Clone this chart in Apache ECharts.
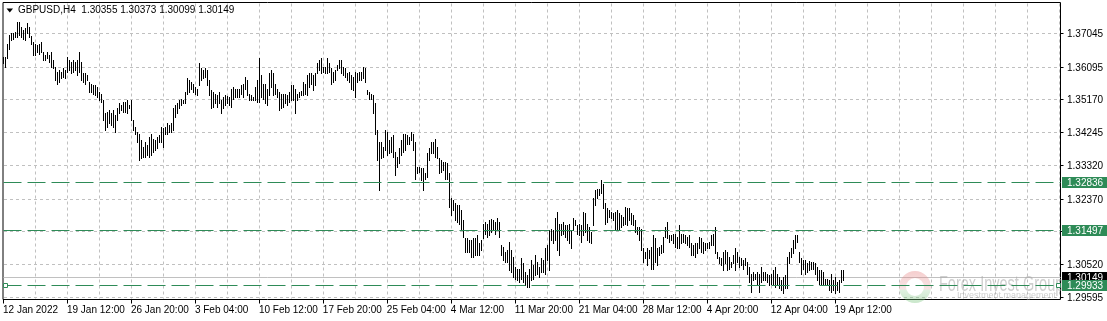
<!DOCTYPE html>
<html><head><meta charset="utf-8">
<script src="https://cdn.jsdelivr.net/npm/echarts@6/dist/echarts.min.js"></script>
<style>html,body{margin:0;padding:0;background:#fff}#c{width:1107px;height:321px}</style>
</head><body><div id="c"></div>
<script>
// ---- data ----
const symbolName = 'GBPUSD,H4';
const lastOHLC = [1.30355, 1.30373, 1.30099, 1.30149];
const highs = [
1.3639,1.3639,1.3676,1.3700,1.3705,1.3707,1.3709,1.3738,1.3738,1.3723,
1.3714,1.3719,1.3733,1.3723,1.3697,1.3681,1.3676,1.3672,1.3676,1.3681,
1.3653,1.3643,1.3653,1.3643,1.3653,1.3629,1.3611,1.3596,1.3601,1.3596,
1.3606,1.3601,1.3639,1.3629,1.3625,1.3629,1.3625,1.3629,1.3653,1.3625,
1.3592,1.3592,1.3587,1.3568,1.3563,1.3559,1.3559,1.3554,1.3540,1.3535,
1.3516,1.3479,1.3484,1.3488,1.3479,1.3488,1.3474,1.3493,1.3509,1.3502,
1.3512,1.3512,1.3516,1.3502,1.3516,1.3460,1.3441,1.3427,1.3422,1.3404,
1.3385,1.3399,1.3389,1.3413,1.3422,1.3408,1.3404,1.3413,1.3418,1.3441,
1.3437,1.3441,1.3451,1.3446,1.3451,1.3493,1.3502,1.3507,1.3518,1.3521,
1.3518,1.3540,1.3578,1.3573,1.3568,1.3563,1.3554,1.3549,1.3620,1.3606,
1.3601,1.3606,1.3601,1.3573,1.3545,1.3540,1.3535,1.3530,1.3540,1.3516,
1.3526,1.3530,1.3528,1.3526,1.3547,1.3554,1.3547,1.3549,1.3547,1.3559,
1.3563,1.3582,1.3573,1.3533,1.3530,1.3526,1.3554,1.3573,1.3634,1.3587,
1.3563,1.3563,1.3549,1.3592,1.3601,1.3592,1.3563,1.3549,1.3540,1.3535,
1.3535,1.3535,1.3530,1.3540,1.3559,1.3559,1.3549,1.3535,1.3540,1.3543,
1.3568,1.3563,1.3587,1.3592,1.3592,1.3587,1.3592,1.3620,1.3629,1.3634,
1.3611,1.3611,1.3634,1.3620,1.3606,1.3596,1.3601,1.3615,1.3629,1.3629,
1.3611,1.3606,1.3592,1.3596,1.3587,1.3582,1.3596,1.3592,1.3596,1.3596,
1.3611,1.3606,1.3545,1.3540,1.3535,1.3530,1.3507,1.3432,1.3399,1.3399,
1.3385,1.3432,1.3427,1.3404,1.3413,1.3418,1.3371,1.3357,1.3380,1.3404,
1.3422,1.3422,1.3418,1.3413,1.3427,1.3422,1.3399,1.3328,1.3328,1.3324,
1.3324,1.3310,1.3366,1.3380,1.3399,1.3399,1.3408,1.3385,1.3352,1.3347,
1.3342,1.3342,1.3338,1.3310,1.3239,1.3234,1.3225,1.3220,1.3220,1.3206,
1.3178,1.3126,1.3126,1.3121,1.3121,1.3126,1.3126,1.3135,1.3112,1.3121,
1.3168,1.3173,1.3168,1.3178,1.3180,1.3178,1.3173,1.3183,1.3173,1.3107,
1.3103,1.3088,1.3093,1.3117,1.3093,1.3074,1.3046,1.3041,1.3041,1.3070,
1.3056,1.3032,1.3023,1.3041,1.3065,1.3051,1.3079,1.3060,1.3046,1.3070,
1.3065,1.3098,1.3107,1.3150,1.3154,1.3150,1.3183,1.3201,1.3168,1.3168,
1.3173,1.3164,1.3164,1.3168,1.3150,1.3183,1.3178,1.3164,1.3168,1.3164,
1.3201,1.3197,1.3168,1.3159,1.3145,1.3239,1.3262,1.3267,1.3267,1.3291,
1.3281,1.3225,1.3211,1.3206,1.3201,1.3197,1.3201,1.3206,1.3197,1.3192,
1.3187,1.3215,1.3211,1.3211,1.3197,1.3192,1.3178,1.3159,1.3159,1.3154,
1.3098,1.3088,1.3098,1.3093,1.3103,1.3135,1.3126,1.3098,1.3103,1.3107,
1.3131,1.3159,1.3173,1.3135,1.3135,1.3140,1.3140,1.3131,1.3164,1.3140,
1.3140,1.3135,1.3131,1.3135,1.3112,1.3107,1.3112,1.3112,1.3131,1.3126,
1.3117,1.3112,1.3112,1.3117,1.3135,1.3140,1.3159,1.3088,1.3074,1.3070,
1.3088,1.3093,1.3088,1.3074,1.3060,1.3079,1.3098,1.3088,1.3074,1.3070,
1.3065,1.3070,1.3060,1.3046,1.3027,1.3032,1.3027,1.3032,1.3027,1.3046,
1.3032,1.3032,1.3027,1.3023,1.3027,1.3037,1.3046,1.3027,1.3018,1.3008,
1.3018,1.3023,1.3074,1.3088,1.3098,1.3121,1.3135,1.3135,1.3088,1.3070,
1.3065,1.3065,1.3056,1.3063,1.3060,1.3060,1.3056,1.3046,1.3037,1.3037,
1.3032,1.3013,1.3013,1.3008,1.3027,1.3008,1.3018,1.3004,1.3008,1.3037,
1.3037
];
const lows = [
1.3620,1.3611,1.3634,1.3662,1.3686,1.3690,1.3695,1.3695,1.3700,1.3695,
1.3690,1.3686,1.3705,1.3695,1.3676,1.3643,1.3643,1.3653,1.3648,1.3653,
1.3629,1.3629,1.3634,1.3625,1.3611,1.3606,1.3573,1.3563,1.3568,1.3578,
1.3582,1.3578,1.3596,1.3601,1.3592,1.3596,1.3601,1.3587,1.3596,1.3573,
1.3568,1.3563,1.3573,1.3540,1.3540,1.3535,1.3530,1.3526,1.3516,1.3512,
1.3460,1.3432,1.3441,1.3451,1.3446,1.3441,1.3427,1.3460,1.3479,1.3488,
1.3484,1.3484,1.3479,1.3493,1.3460,1.3432,1.3422,1.3399,1.3347,1.3352,
1.3357,1.3357,1.3361,1.3357,1.3361,1.3371,1.3375,1.3380,1.3399,1.3399,
1.3385,1.3422,1.3422,1.3427,1.3427,1.3432,1.3469,1.3479,1.3493,1.3502,
1.3507,1.3507,1.3535,1.3540,1.3549,1.3540,1.3535,1.3530,1.3559,1.3573,
1.3578,1.3582,1.3559,1.3530,1.3493,1.3498,1.3507,1.3498,1.3507,1.3479,
1.3493,1.3502,1.3507,1.3502,1.3498,1.3521,1.3526,1.3526,1.3524,1.3535,
1.3526,1.3549,1.3530,1.3516,1.3516,1.3516,1.3516,1.3512,1.3512,1.3526,
1.3521,1.3507,1.3502,1.3530,1.3554,1.3530,1.3535,1.3526,1.3488,1.3493,
1.3498,1.3507,1.3502,1.3512,1.3516,1.3516,1.3479,1.3516,1.3526,1.3530,
1.3530,1.3535,1.3530,1.3554,1.3563,1.3545,1.3559,1.3592,1.3601,1.3592,
1.3596,1.3592,1.3592,1.3596,1.3563,1.3568,1.3573,1.3601,1.3606,1.3592,
1.3587,1.3582,1.3573,1.3568,1.3549,1.3545,1.3526,1.3568,1.3573,1.3573,
1.3578,1.3568,1.3535,1.3521,1.3521,1.3479,1.3422,1.3347,1.3262,1.3352,
1.3357,1.3375,1.3361,1.3366,1.3371,1.3357,1.3305,1.3328,1.3338,1.3361,
1.3371,1.3375,1.3394,1.3394,1.3404,1.3375,1.3295,1.3310,1.3314,1.3291,
1.3262,1.3295,1.3300,1.3347,1.3366,1.3366,1.3357,1.3352,1.3310,1.3314,
1.3319,1.3295,1.3295,1.3215,1.3192,1.3206,1.3178,1.3173,1.3168,1.3154,
1.3131,1.3088,1.3088,1.3088,1.3074,1.3074,1.3079,1.3079,1.3079,1.3093,
1.3126,1.3140,1.3131,1.3135,1.3145,1.3150,1.3140,1.3150,1.3131,1.3079,
1.3065,1.3060,1.3060,1.3037,1.3032,1.3018,1.3013,1.3008,1.3004,1.3013,
1.3004,1.2994,1.2990,1.2990,1.3008,1.3013,1.3023,1.3027,1.3018,1.3032,
1.3032,1.3027,1.3065,1.3037,1.3121,1.3112,1.3121,1.3093,1.3079,1.3135,
1.3140,1.3131,1.3121,1.3112,1.3098,1.3150,1.3164,1.3140,1.3135,1.3117,
1.3135,1.3145,1.3121,1.3117,1.3112,1.3164,1.3220,1.3239,1.3248,1.3253,
1.3211,1.3168,1.3173,1.3187,1.3183,1.3178,1.3150,1.3150,1.3150,1.3159,
1.3164,1.3168,1.3164,1.3178,1.3168,1.3164,1.3145,1.3140,1.3121,1.3093,
1.3060,1.3070,1.3051,1.3070,1.3041,1.3041,1.3060,1.3051,1.3079,1.3084,
1.3088,1.3131,1.3126,1.3117,1.3121,1.3112,1.3103,1.3098,1.3098,1.3112,
1.3117,1.3112,1.3107,1.3103,1.3079,1.3079,1.3074,1.3084,1.3098,1.3088,
1.3084,1.3093,1.3098,1.3098,1.3107,1.3107,1.3084,1.3070,1.3056,1.3051,
1.3037,1.3056,1.3037,1.3041,1.3046,1.3056,1.3037,1.3060,1.3046,1.3051,
1.3041,1.3051,1.3027,1.3004,1.2976,1.3008,1.3013,1.2999,1.2976,1.3004,
1.3008,1.3008,1.3004,1.2994,1.2999,1.2994,1.2990,1.2994,1.2985,1.2980,
1.2971,1.2985,1.2985,1.3056,1.3074,1.3084,1.3098,1.3117,1.3060,1.3027,
1.3041,1.3027,1.3032,1.3037,1.3041,1.3041,1.3027,1.3008,1.2999,1.2994,
1.2999,1.2994,1.2994,1.2980,1.2976,1.2980,1.2971,1.2980,1.2976,1.3004,
1.3010
];
const xTickLabels = ['12 Jan 2022','19 Jan 12:00','26 Jan 20:00','3 Feb 04:00','10 Feb 12:00','17 Feb 20:00','25 Feb 04:00','4 Mar 12:00','11 Mar 20:00','21 Mar 04:00','28 Mar 12:00','4 Apr 20:00','12 Apr 04:00','19 Apr 12:00'];
const yTicks = [1.37045,1.36095,1.35170,1.34245,1.33320,1.32370,1.31445,1.30520,1.29595];
const levels = [1.32836,1.31497,1.29933];
const bidPrice = 1.30149;
const selectedLevel = 1.29933;

// ---- layout / style ----
const BARS_PER_LABEL = 32, BARS_PER_GRID = 16, SLOTS = 529;
const Y_MIN = 1.295385, Y_MAX = 1.379198;
const FONT = '10px "Liberation Sans", Arial, sans-serif';
const GRID_C = '#c0c0c0', LEVEL_C = '#2e8b57';

const chart = echarts.init(document.getElementById('c'), null, {renderer:'canvas'});
const snap = v => Math.round(v - 0.5) + 0.5;
function txt(text, x, y, fill, extra) {
  return Object.assign({type:'text', style:{text, x, y, fill, font:FONT, align:'left', verticalAlign:'middle', textAlign:'left', textVerticalAlign:'middle'}}, extra||{});
}

chart.setOption({
  animation:false,
  backgroundColor:'#fff',
  grid:{left:2.5, top:2.5, width:1058, height:297, show:true, borderColor:'#000', borderWidth:1, backgroundColor:'#fff'},
  xAxis:{type:'value', min:0, max:SLOTS, interval:BARS_PER_LABEL,
    axisLine:{show:false}, axisTick:{show:false}, splitLine:{show:false},
    axisLabel:{margin:6, align:'left', color:'#000', fontFamily:'Liberation Sans', fontSize:10, showMaxLabel:false,
      formatter:v => xTickLabels[Math.round(v / BARS_PER_LABEL)] || ''}},
  yAxis:{type:'value', min:Y_MIN, max:Y_MAX, position:'right', scale:true,
    axisLine:{show:false}, axisTick:{show:false}, axisLabel:{show:false}, splitLine:{show:false}},
  graphic:[
    {type:'polygon', shape:{points:[[6.5,8.5],[13,8.5],[9.75,12.5]]}, style:{fill:'#000'}, z:10},
    {type:'text', left:18, top:5, style:{text: symbolName + '  ' + lastOHLC.map(v => v.toFixed(5)).join(' '), fill:'#000', font:FONT}, z:10},
    {type:'ring', shape:{cx:915, cy:287, r:16, r0:9}, style:{fill:new echarts.graphic.LinearGradient(0,0,0,1,[{offset:0,color:'#e57373'},{offset:0.55,color:'#e8b4b4'},{offset:0.6,color:'#a5d6a7'},{offset:1,color:'#66bb6a'}]), opacity:0.35}, z:3},
    {type:'text', x:939, y:274, scaleX:0.66, style:{text:'Forex Invest Group', fill:'#a8a8a8', font:'22px "Liberation Sans", Arial, sans-serif', opacity:0.55}, z:3},
    {type:'text', x:957, y:291, style:{text:'Investment management', fill:'#a8a8a8', font:'9px "Liberation Sans", Arial, sans-serif', opacity:0.55}, z:3}
  ],
  series:[
    { // grid, axis ticks and price scale labels
      type:'custom', z:1, silent:true, clip:false, data:[[0, yTicks[0]]],
      renderItem(params, api){
        const cs = params.coordSys, ch = [];
        const right = cs.x + cs.width, bottom = cs.y + cs.height;
        for (let v = BARS_PER_GRID; v < SLOTS; v += BARS_PER_GRID) {
          const x = Math.round(api.coord([v, yTicks[0]])[0]) + 0.5;
          ch.push({type:'line', shape:{x1:x, y1:cs.y+1, x2:x, y2:bottom-1}, style:{stroke:GRID_C, lineWidth:1, lineDash:[3,3]}});
        }
        xTickLabels.forEach((l, k) => {
          const x = Math.round(api.coord([k*BARS_PER_LABEL, yTicks[0]])[0]) + 0.5;
          ch.push({type:'line', shape:{x1:x, y1:bottom, x2:x, y2:bottom+4}, style:{stroke:'#000', lineWidth:1}});
        });
        yTicks.forEach(v => {
          const y = snap(api.coord([0, v])[1]);
          ch.push({type:'line', shape:{x1:cs.x+1, y1:y, x2:right-1, y2:y}, style:{stroke:GRID_C, lineWidth:1, lineDash:[3,3]}});
          ch.push({type:'line', shape:{x1:right, y1:y, x2:right+3, y2:y}, style:{stroke:'#000', lineWidth:1}});
          ch.push(txt(v.toFixed(5), right+6.5, y+1, '#000'));
        });
        return {type:'group', children:ch};
      }
    },
    { // bid line
      type:'custom', z:1.5, silent:true, clip:false, data:[[0, bidPrice]],
      renderItem(params, api){
        const cs = params.coordSys, right = cs.x + cs.width;
        const y = snap(api.coord([0, api.value(1)])[1]);
        return {type:'group', children:[
          {type:'line', shape:{x1:cs.x+0.5, y1:y, x2:right, y2:y}, style:{stroke:GRID_C, lineWidth:1}},
          {type:'rect', shape:{x:Math.round(right)+1, y:y-5.5, width:46, height:11}, style:{fill:'#000'}},
          txt(api.value(1).toFixed(5), right+6.5, y+0.5, '#fff')
        ]};
      }
    },
    { // OHLC bars (high-low)
      type:'custom', z:2, silent:true,
      data: highs.map((h, i) => [i, h, lows[i]]),
      encode:{x:0, y:[1,2]},
      renderItem(params, api){
        const i = api.value(0);
        const t = api.coord([i, api.value(1)]), b = api.coord([i, api.value(2)]);
        const y1 = Math.round(t[1]), y2 = Math.round(b[1]);
        return {type:'rect', shape:{x:Math.round(t[0]), y:y1, width:1, height:Math.max(1, y2 - y1 + 1)}, style:{fill:'#000'}};
      }
    },
    { // horizontal levels
      type:'custom', z:5, silent:true, clip:false, data: levels.map(v => [0, v]),
      renderItem(params, api){
        const cs = params.coordSys, right = cs.x + cs.width;
        const v = api.value(1), y = snap(api.coord([0, v])[1]);
        const ch = [
          {type:'line', shape:{x1:cs.x+0.5, y1:y, x2:right, y2:y}, style:{stroke:LEVEL_C, lineWidth:1, lineDash:[18,6]}},
          {type:'rect', shape:{x:Math.round(right)+1, y:y-5.5, width:46, height:11}, style:{fill:LEVEL_C}},
          txt(v.toFixed(5), right+6.5, y+0.5, '#fff')
        ];
        if (v === selectedLevel) {
          ch.push({type:'rect', shape:{x:Math.round(cs.x)+0.5, y:y-2, width:4, height:4}, style:{fill:'#fff', stroke:LEVEL_C, lineWidth:1}});
          ch.push({type:'rect', shape:{x:Math.round(right)-4.5, y:y-2, width:4, height:4}, style:{fill:'#fff', stroke:LEVEL_C, lineWidth:1}});
        }
        return {type:'group', children:ch};
      }
    }
  ]
});
</script></body></html>
